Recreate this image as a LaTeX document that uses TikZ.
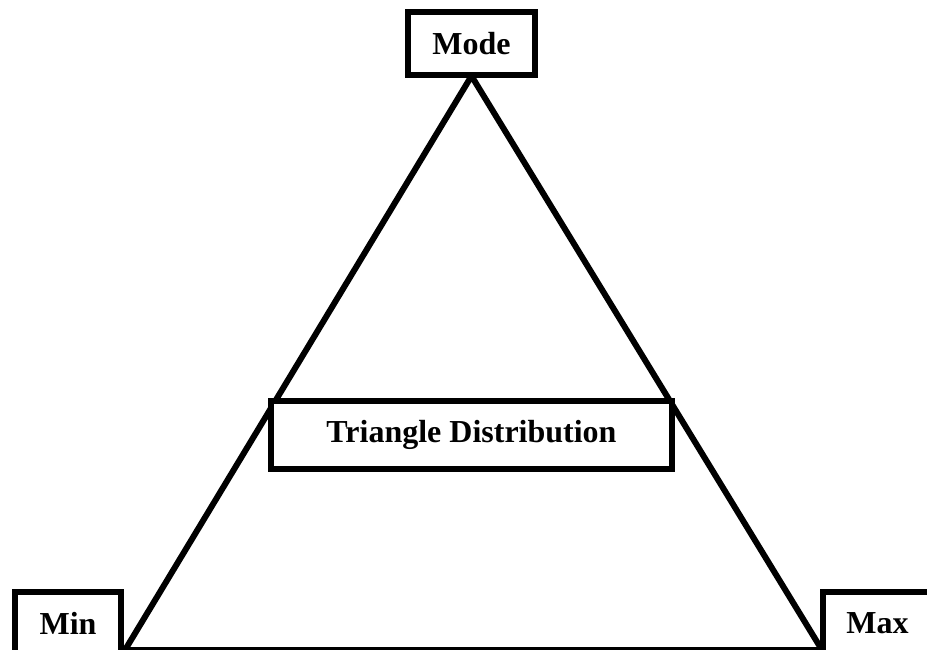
\documentclass[tikz,border=0pt]{standalone}
\usepackage{fontspec}
\setmainfont{Liberation Serif}
\begin{document}
\begin{tikzpicture}[x=1pt,y=-1pt,
  lbl/.style={draw, line width=6pt, fill=white, inner sep=0pt,
    font=\fontsize{32}{38}\selectfont\bfseries},
  edge/.style={line width=6pt, line join=miter}]
\useasboundingbox (0,0) rectangle (927,649);
\clip (0,0) rectangle (927,649);
\coordinate (apex) at (471.5,76);
\coordinate (bl) at (125,650);
\coordinate (br) at (822,650);
\draw[edge] (apex) -- (bl) -- (br) -- cycle;
\node[lbl, minimum width=127pt, minimum height=63pt] (mode) at (471.5,43.5) {Mode};
\node[lbl, minimum width=401pt, minimum height=68pt] (tri) at (471.5,435) {Triangle Distribution};
\node[lbl, minimum width=106pt, minimum height=63pt] (min) at (68,623.5) {Min};
\node[lbl, minimum width=109pt, minimum height=63pt] (max) at (877.5,623.5) {Max};
\end{tikzpicture}
\end{document}
